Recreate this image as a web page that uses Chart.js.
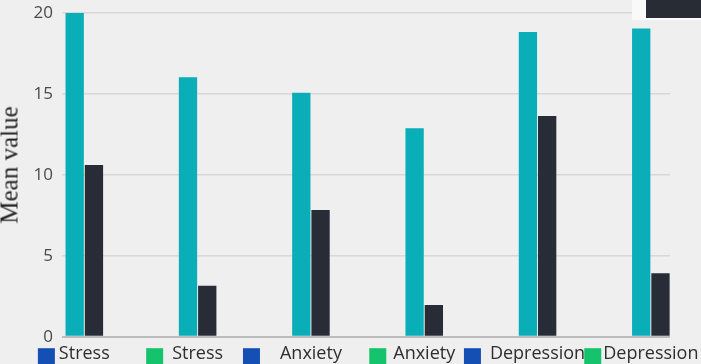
<!DOCTYPE html>
<html><head><meta charset="utf-8">
<script src="https://cdn.jsdelivr.net/npm/chart.js@4.4.1/dist/chart.umd.min.js"></script>
<style>
html,body{margin:0;padding:0;background:#efefef;width:701px;height:364px;overflow:hidden;}
#wrap{position:relative;width:701px;height:364px;}
canvas{position:absolute;left:0;top:0;}
#ytitle{position:absolute;left:9px;top:165px;transform:translate(-50%,-50%) rotate(-90deg);font-family:"Liberation Serif",serif;font-size:25px;color:#222;white-space:nowrap;line-height:1;}
#corner{position:absolute;left:632px;top:0;width:69px;height:20px;background:#f9f9f9;}
#cornerDark{position:absolute;left:646px;top:0;width:55px;height:18px;background:#272c35;}
</style></head><body>
<div id="wrap"><canvas id="c" width="701" height="364"></canvas><div id="ytitle">Mean value</div><div id="corner"></div><div id="cornerDark"></div></div>
<script>
const categories = ["Stress", "Stress", "Anxiety", "Anxiety", "Depression", "Depression"];
const series1 = [20.0, 16.03, 15.08, 12.88, 18.83, 19.04];
const series2 = [10.61, 3.15, 7.83, 1.96, 13.63, 3.92];
const yTicks = [0, 5, 10, 15, 20];
const markerColors = ["#1450b4", "#14c36c", "#1450b4", "#14c36c", "#1450b4", "#14c36c"];
const markerGaps = [4, 9, 20, 7, 9, 2];

const markerPlugin = {
  id: 'markers',
  afterDraw(chart) {
    const ctx = chart.ctx, xs = chart.scales.x;
    ctx.save();
    ctx.font = '18px "Open Sans"';
    categories.forEach((c, i) => {
      const px = xs.getPixelForValue(i);
      const w = ctx.measureText(c).width;
      const right = px - w / 2 - markerGaps[i];
      ctx.fillStyle = markerColors[i];
      ctx.fillRect(right - 17, chart.chartArea.bottom + 11.5, 17, 17);
    });
    ctx.restore();
  }
};

new Chart(document.getElementById('c'), {
  type: 'bar',
  data: {
    datasets: [
      { label: 'Series 1', data: series1.map((v, i) => ({ x: i, y: v })), backgroundColor: '#09aeb9', borderWidth: 0 },
      { label: 'Series 2', data: series2.map((v, i) => ({ x: i, y: v })), backgroundColor: '#272c36', borderWidth: 0 }
    ]
  },
  options: {
    responsive: false,
    animation: false,
    devicePixelRatio: 1,
    categoryPercentage: 0.34,
    barPercentage: 0.95,
    layout: { padding: { top: 13, right: 31, bottom: 0, left: 0 } },
    plugins: { legend: { display: false }, tooltip: { enabled: false } },
    scales: {
      x: {
        type: 'linear', min: -0.197, max: 5.169, offset: false,
        grid: { display: false, drawTicks: false, offset: false },
        border: { display: false },
        afterBuildTicks: s => { s.ticks = categories.map((_, i) => ({ value: i })); },
        afterFit: s => { s.height = 27.3; s.paddingLeft = 0; s.paddingRight = 0; },
        ticks: { autoSkip: false, maxRotation: 0, minRotation: 0, padding: 6,
          font: { family: 'Open Sans', size: 18 }, color: '#2e2e2e',
          callback: v => categories[v] }
      },
      y: {
        min: 0, max: 20,
        afterBuildTicks: s => { s.ticks = yTicks.map(v => ({ value: v })); },
        afterFit: s => { s.width = 62; s.paddingTop = 0; s.paddingBottom = 0; },
        grid: { drawTicks: false,
          color: ctx => (ctx.tick && ctx.tick.value === 0) ? '#bcbcbc' : '#d8d8d8',
          lineWidth: ctx => (ctx.tick && ctx.tick.value === 0) ? 2 : 1.5 },
        border: { display: false },
        ticks: { padding: 9, font: { family: 'Open Sans', size: 17 }, color: '#4a4a4a' }
      }
    }
  },
  plugins: [markerPlugin]
});
</script>
</body></html>
